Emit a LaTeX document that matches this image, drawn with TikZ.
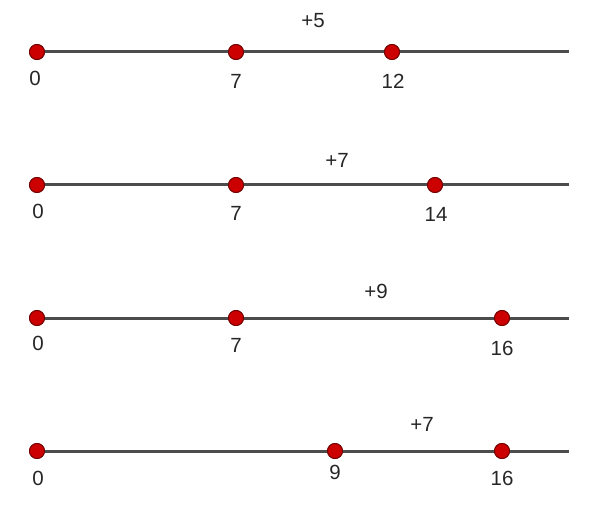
\documentclass[tikz,border=0pt]{standalone}
\usepackage{fontspec}
\setmainfont{Liberation Sans}
\begin{document}
\begin{tikzpicture}[x=1pt,y=-1pt,
  axis/.style={draw=black!70, line width=3pt},
  pt/.style={circle, fill=red!80!black, draw=red!45!black, line width=0.9pt, minimum size=15pt, inner sep=0pt},
  lbl/.style={font=\fontsize{20.5}{24}\selectfont, text=black!85, inner sep=0pt},
]
\useasboundingbox (0,0) rectangle (600,524);
% line 1
\coordinate (e1) at (569,52);
\node[pt] (a1) at (37,52) {};
\node[pt] (b1) at (236,52) {};
\node[pt] (c1) at (392,52) {};
\draw[axis] (a1.center) -- (e1);
\foreach \n in {a1,b1,c1} \node[pt] at (\n) {};
\node[lbl] (la1) at (35,78) {0};
\node[lbl] (lb1) at (236,81) {7};
\node[lbl] (lc1) at (393,81) {12};
\node[lbl] (s1) at (313,21) {+5};
% line 2
\coordinate (e2) at (569,185);
\node[pt] (a2) at (37,185) {};
\node[pt] (b2) at (236,185) {};
\node[pt] (c2) at (435,185) {};
\draw[axis] (a2.center) -- (e2);
\foreach \n in {a2,b2,c2} \node[pt] at (\n) {};
\node[lbl] (la2) at (38,211) {0};
\node[lbl] (lb2) at (236,213) {7};
\node[lbl] (lc2) at (436,214) {14};
\node[lbl] (s2) at (337,160) {+7};
% line 3
\coordinate (e3) at (569,318);
\node[pt] (a3) at (37,318) {};
\node[pt] (b3) at (236,318) {};
\node[pt] (c3) at (502,318) {};
\draw[axis] (a3.center) -- (e3);
\foreach \n in {a3,b3,c3} \node[pt] at (\n) {};
\node[lbl] (la3) at (38,343) {0};
\node[lbl] (lb3) at (236,345) {7};
\node[lbl] (lc3) at (502,348) {16};
\node[lbl] (s3) at (376,291) {+9};
% line 4
\coordinate (e4) at (569,451);
\node[pt] (a4) at (37,451) {};
\node[pt] (b4) at (335,451) {};
\node[pt] (c4) at (502,451) {};
\draw[axis] (a4.center) -- (e4);
\foreach \n in {a4,b4,c4} \node[pt] at (\n) {};
\node[lbl] (la4) at (38,478) {0};
\node[lbl] (lb4) at (335,472) {9};
\node[lbl] (lc4) at (502,478) {16};
\node[lbl] (s4) at (422,424) {+7};
\end{tikzpicture}
\end{document}
